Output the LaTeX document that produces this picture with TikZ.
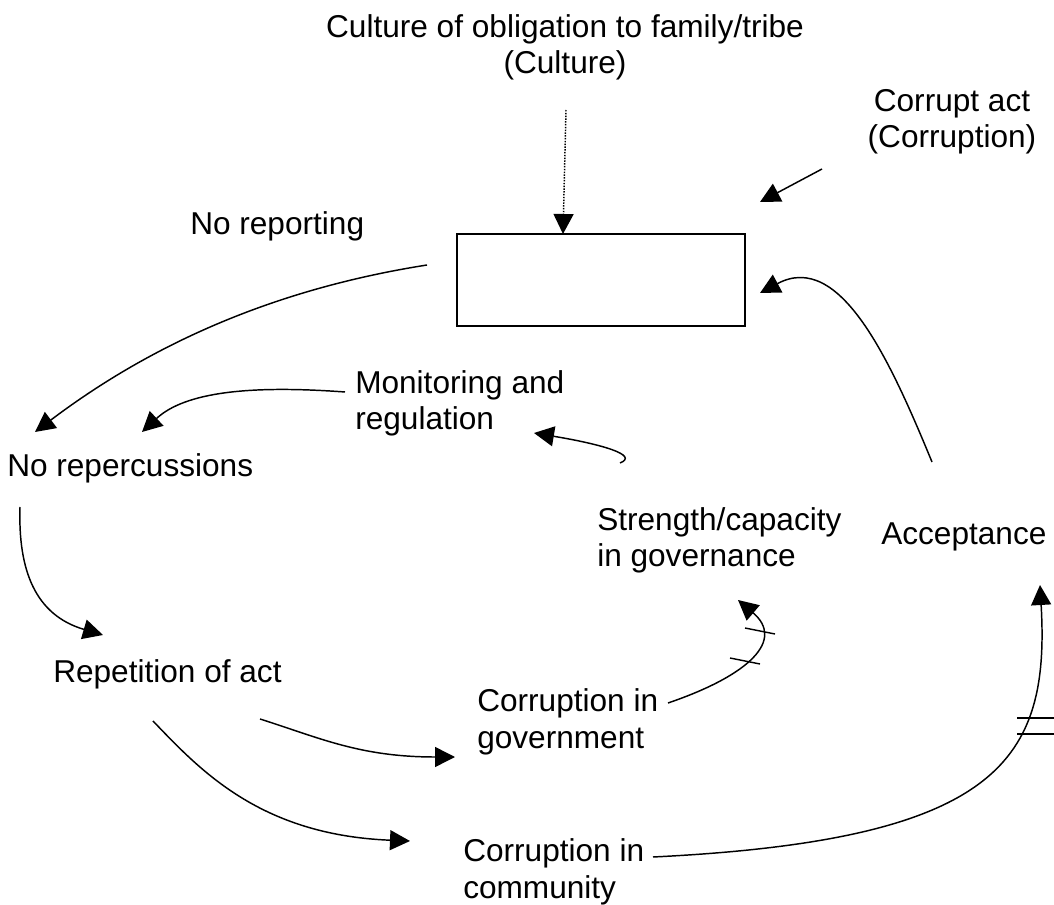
\documentclass[tikz,border=0pt]{standalone}
\usepackage{fontspec}
\setmainfont{Liberation Sans}
\usetikzlibrary{arrows.meta}

\begin{document}
\begin{tikzpicture}[x=0.75pt,y=0.75pt,yscale=-1,xscale=1,
  lbl/.style={inner sep=0pt,anchor=base west,align=left,font=\fontsize{23.7}{27.3}\selectfont},
  link/.style={line width=1.1pt,-{Triangle[length=15pt,width=15pt]}},
  tick/.style={line width=1.1pt}]
\useasboundingbox (0,0) rectangle (1054,905);

%Box
\node (box) [draw,line width=1.1pt,minimum width=216pt,minimum height=69pt,inner sep=0pt] at (601,280) {};

% Text Node
\node (cult) [lbl,anchor=base,align=center] at (565,74) {Culture of obligation to family/tribe\\(Culture)};
% Text Node
\node (corr) [lbl,anchor=base,align=center] at (952,148) {Corrupt act\\(Corruption)};
% Text Node
\node (norep) [lbl] at (190,235) {No reporting};
% Text Node
\node (mon) [lbl] at (355,430) {Monitoring and\\regulation};
% Text Node
\node (nore) [lbl] at (7,477) {No repercussions};
% Text Node
\node (str) [lbl] at (597,567) {Strength/capacity\\in governance};
% Text Node
\node (acc) [lbl] at (881,545) {Acceptance};
% Text Node
\node (rep) [lbl] at (53,682) {Repetition of act};
% Text Node
\node (gov) [lbl] at (477,748) {Corruption in\\government};
% Text Node
\node (com) [lbl] at (463,898) {Corruption in\\community};

%Ends
\coordinate (c1) at (566,110);  \coordinate (c2) at (563,234);
\coordinate (c3) at (822,169);  \coordinate (c4) at (760,202);
\coordinate (c5) at (932,462);  \coordinate (c6) at (760,293);
\coordinate (c7) at (427,265);  \coordinate (c8) at (35,432);
\coordinate (c9) at (345,392);  \coordinate (c10) at (142,432);
\coordinate (c11) at (620,463); \coordinate (c12) at (534,433);
\coordinate (c13) at (20,507);  \coordinate (c14) at (103,635);
\coordinate (c15) at (260,719); \coordinate (c16) at (455,757);
\coordinate (c17) at (153,721); \coordinate (c18) at (410,841);
\coordinate (c19) at (668,703); \coordinate (c20) at (738,600);
\coordinate (c21) at (653,857); \coordinate (c22) at (1040,585);

%Arrows
\draw [link,densely dotted] (c1) -- (c2);
\draw [link] (c3) -- (c4);
\draw [link] (c5) .. controls (890,360) and (840,250) .. (c6);
\draw [link] (c7) .. controls (300,285) and (170,330) .. (c8);
\draw [link] (c9) .. controls (250,385) and (185,392) .. (c10);
\draw [link] (c11) .. controls (640,455) and (600,444) .. (c12);
\draw [link] (c13) .. controls (18,570) and (35,615) .. (c14);
\draw [link] (c15) .. controls (320,738) and (360,757) .. (c16);
\draw [link] (c17) .. controls (200,770) and (260,835) .. (c18);
\draw [link] (c19) .. controls (750,675) and (785,640) .. (c20);
\draw [link] (c21) .. controls (1000,840) and (1050,760) .. (c22);

%Delay marks
\draw [tick] (730,658) -- (760,664);
\draw [tick] (745,628) -- (775,634);
\draw [tick] (1017,718) -- (1054,718);
\draw [tick] (1017,734) -- (1054,734);

\end{tikzpicture}
\end{document}
